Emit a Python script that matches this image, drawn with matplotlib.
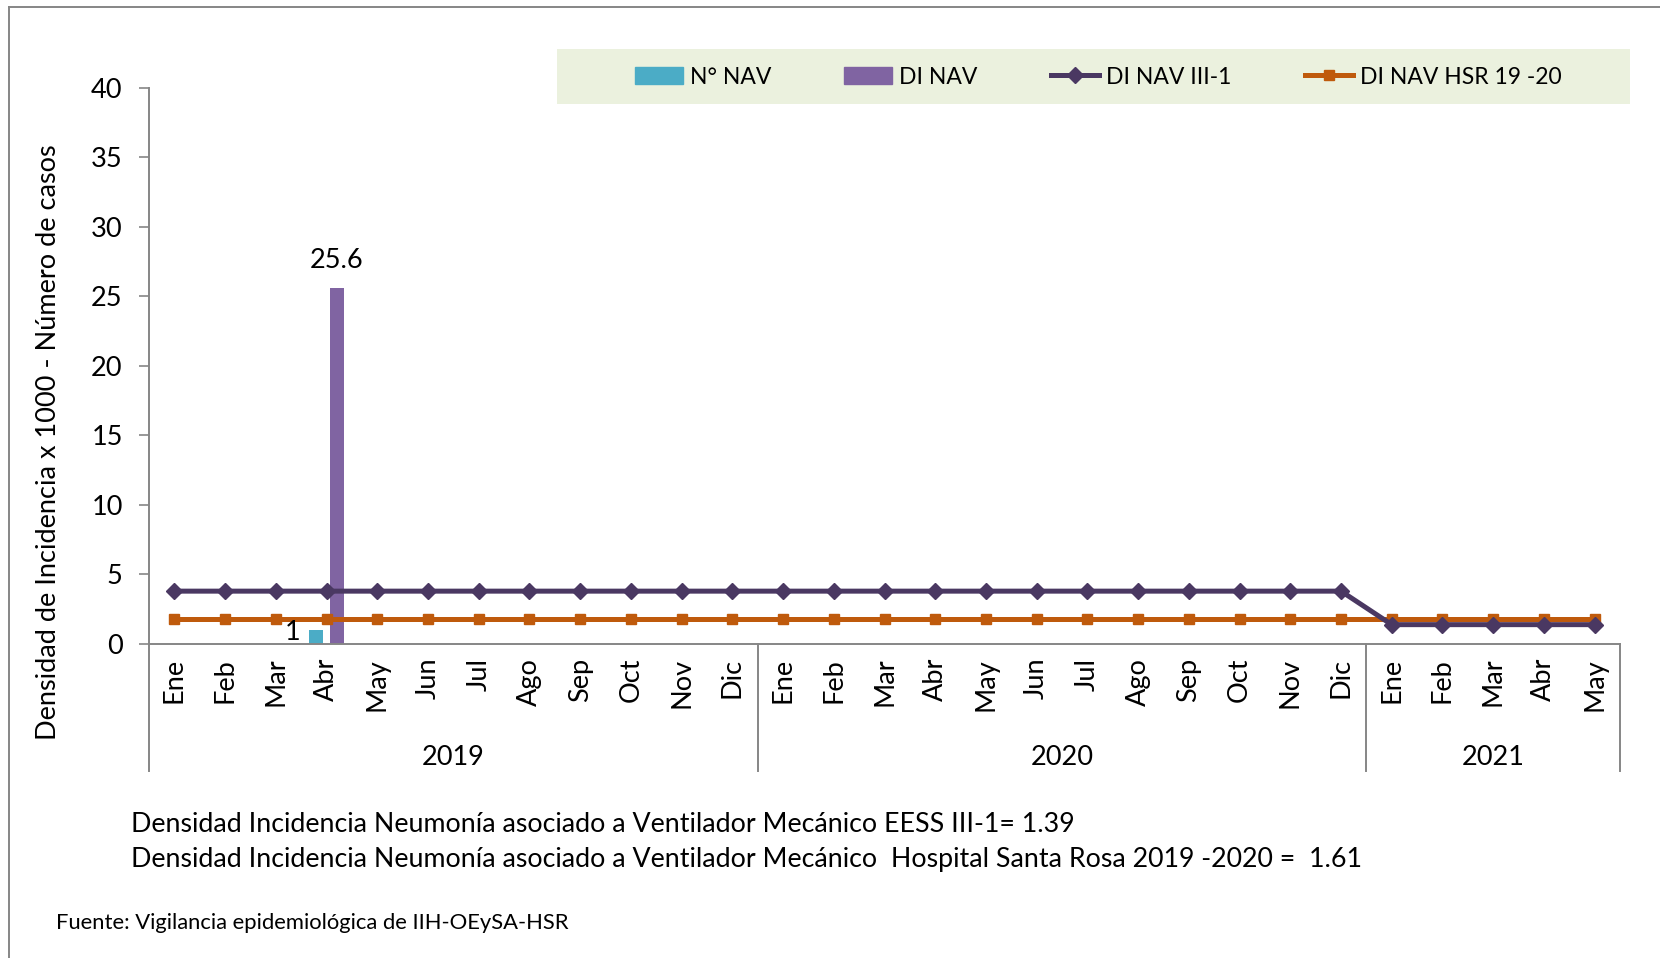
import numpy as np
import matplotlib
matplotlib.use('Agg')
import matplotlib.pyplot as plt
from matplotlib.lines import Line2D
from matplotlib.patches import Patch, Rectangle
import matplotlib.transforms as mtransforms

plt.rcParams['font.family'] = ['Lato', 'DejaVu Sans']

# data
months = ['Ene', 'Feb', 'Mar', 'Abr', 'May', 'Jun', 'Jul', 'Ago', 'Sep', 'Oct', 'Nov', 'Dic',
          'Ene', 'Feb', 'Mar', 'Abr', 'May', 'Jun', 'Jul', 'Ago', 'Sep', 'Oct', 'Nov', 'Dic',
          'Ene', 'Feb', 'Mar', 'Abr', 'May']
years = ['2019', '2020', '2021']
year_sizes = [12, 12, 5]

n_nav = [0, 0, 0, 1, 0, 0, 0, 0, 0, 0, 0, 0,
         0, 0, 0, 0, 0, 0, 0, 0, 0, 0, 0, 0,
         0, 0, 0, 0, 0]
di_nav = [0, 0, 0, 25.6, 0, 0, 0, 0, 0, 0, 0, 0,
          0, 0, 0, 0, 0, 0, 0, 0, 0, 0, 0, 0,
          0, 0, 0, 0, 0]
di_nav_iii1 = [3.8, 3.8, 3.8, 3.8, 3.8, 3.8, 3.8, 3.8, 3.8, 3.8, 3.8, 3.8,
               3.8, 3.8, 3.8, 3.8, 3.8, 3.8, 3.8, 3.8, 3.8, 3.8, 3.8, 3.8,
               1.39, 1.39, 1.39, 1.39, 1.39]
di_nav_hsr = [1.8, 1.8, 1.8, 1.8, 1.8, 1.8, 1.8, 1.8, 1.8, 1.8, 1.8, 1.8,
              1.8, 1.8, 1.8, 1.8, 1.8, 1.8, 1.8, 1.8, 1.8, 1.8, 1.8, 1.8,
              1.8, 1.8, 1.8, 1.8, 1.8]

c_cyan = '#4BACC6'
c_purple = '#8064A2'
c_dark = '#4A3862'
c_orange = '#BF5A0C'
c_axis = '#868686'
fs = 19.5

fig = plt.figure(figsize=(16.6, 9.58), dpi=100)
ax = fig.add_axes([0.0898, 0.3278, 0.8861, 0.5804])

x = np.arange(len(months))
bw = 0.276
ax.bar(x - 0.2, n_nav, bw, color=c_cyan, zorder=2)
ax.bar(x + 0.2, di_nav, bw, color=c_purple, zorder=2)
ax.plot(x, di_nav_iii1, color=c_dark, lw=3.6, marker='D', ms=8, zorder=4)
ax.plot(x, di_nav_hsr, color=c_orange, lw=3.6, marker='s', ms=7, zorder=3)

# data labels
for i, v in enumerate(n_nav):
    if v:
        ax.text(x[i] - 0.52, v - 0.2, f'{v:g}', ha='right', va='center', fontsize=fs)
for i, v in enumerate(di_nav):
    if v:
        ax.text(x[i] + 0.2, v + 1.1, f'{v:g}', ha='center', va='bottom', fontsize=fs)

ax.set_xlim(-0.5, len(months) - 0.5)
ax.set_ylim(0, 40)
ax.set_yticks(np.arange(0, 41, 5))
ax.tick_params(axis='y', labelsize=fs, length=7, color=c_axis, width=1.2, pad=12)
ax.set_xticks(x)
ax.set_xticklabels(months, rotation=90, fontsize=fs, va='top')
ax.tick_params(axis='x', length=0, pad=10)
for s in ['top', 'right']:
    ax.spines[s].set_visible(False)
for s in ['left', 'bottom']:
    ax.spines[s].set_color(c_axis)
    ax.spines[s].set_linewidth(1.4)
ax.set_ylabel('Densidad de Incidencia x 1000 - Número de casos', fontsize=fs)
ax.yaxis.set_label_coords(-0.060, 0.362)

# year group axis
trans = mtransforms.blended_transform_factory(ax.transData, ax.transAxes)
edges = np.concatenate([[0], np.cumsum(year_sizes)]) - 0.5
for e in edges:
    ax.add_line(Line2D([e, e], [0, -0.228], transform=trans, color=c_axis, lw=1.4, clip_on=False))
for i, yr in enumerate(years):
    ax.text((edges[i] + edges[i + 1]) / 2, -0.205, yr, transform=trans,
            ha='center', va='center', fontsize=fs)

# legend
fig.add_artist(Rectangle((557 / 1660, 1 - 104 / 958), 1073 / 1660, 55 / 958,
                         transform=fig.transFigure, facecolor='#EBF1DE', edgecolor='none', zorder=1))
handles = [Patch(color=c_cyan), Patch(color=c_purple),
           Line2D([], [], color=c_dark, lw=3.6, marker='D', ms=8),
           Line2D([], [], color=c_orange, lw=3.6, marker='s', ms=7)]
labels = ['N° NAV', 'DI NAV', 'DI NAV III-1', 'DI NAV HSR 19 -20']
leg = fig.legend(handles, labels, loc='center', ncol=4,
                 bbox_to_anchor=(1098 / 1660, 1 - 77 / 958), fontsize=16.5,
                 frameon=False, handlelength=2.1, handletextpad=0.3, columnspacing=3.2)
leg.set_zorder(5)

# notes
fig.text(131 / 1660, 1 - 824 / 958, 'Densidad Incidencia Neumonía asociado a Ventilador Mecánico EESS III-1= 1.39',
         fontsize=19.3, va='center')
fig.text(131 / 1660, 1 - 860 / 958, 'Densidad Incidencia Neumonía asociado a Ventilador Mecánico  Hospital Santa Rosa 2019 -2020 =  1.61',
         fontsize=19.3, va='center')
fig.text(56 / 1660, 1 - 923 / 958, 'Fuente: Vigilancia epidemiológica de IIH-OEySA-HSR',
         fontsize=15.8, va='center')

# chart border
fig.add_artist(Line2D([9 / 1660, 9 / 1660], [0, 1 - 7 / 958], color=c_axis, lw=1.4))
fig.add_artist(Line2D([9 / 1660, 1], [1 - 7 / 958, 1 - 7 / 958], color=c_axis, lw=1.4))

fig.savefig('out.png', dpi=100)
